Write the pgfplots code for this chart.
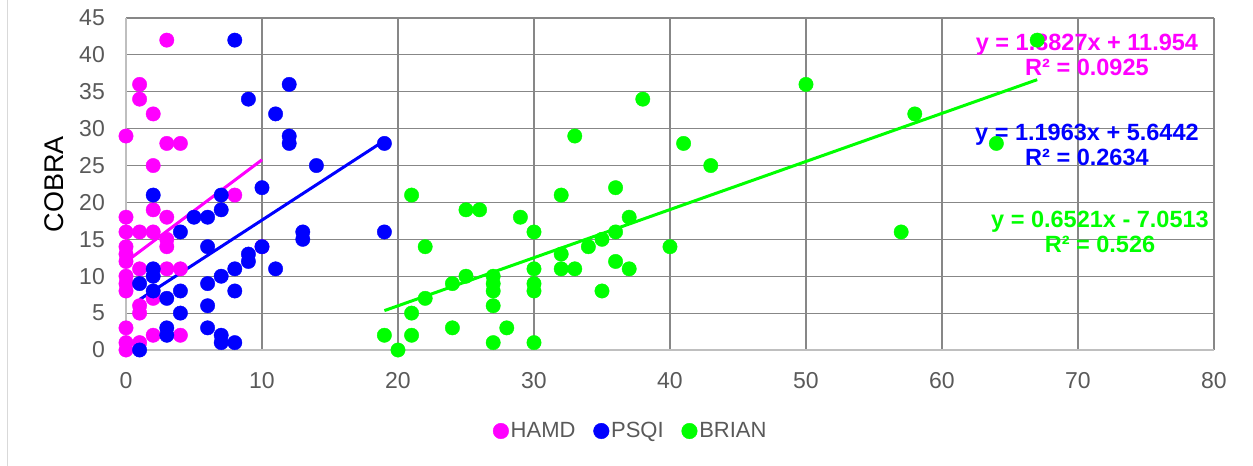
\documentclass[border=0pt]{standalone}
\usepackage{fontspec}
\setmainfont{Liberation Sans}
\usepackage{pgfplots}
\pgfplotsset{compat=1.18}
\definecolor{hamd}{HTML}{FF00FF}
\definecolor{psqi}{HTML}{0000FF}
\definecolor{brian}{HTML}{00FF00}
\definecolor{txtgray}{HTML}{595959}
\definecolor{gridgray}{HTML}{878787}
\definecolor{axgray}{HTML}{BFBFBF}
\definecolor{bordergray}{HTML}{D9D9D9}
\begin{document}
\begin{tikzpicture}
\path[use as bounding box] (0,0) rectangle (1253bp,466bp);
\draw[color=bordergray, line width=1.5bp] (7.5bp,0) -- (7.5bp,466bp);
\begin{axis}[
  at={(126bp,116bp)}, anchor=south west,
  scale only axis, width=1088bp, height=332bp,
  xmin=0, xmax=80, ymin=0, ymax=45,
  xtick={0,10,...,80}, ytick={0,5,...,45},
  grid=major, major grid style={color=gridgray, line width=1.2bp},
  axis line style={draw=none},
  major tick length=0pt,
  clip=false,
  /pgf/number format/assume math mode=true,
  tick label style={font=\fontsize{23bp}{26bp}\selectfont, text=txtgray, inner sep=0pt},
  xticklabel style={anchor=north, yshift=-22bp},
  yticklabel style={anchor=east, xshift=-21bp},
  ylabel={COBRA},
  every axis y label/.style={at={(axis description cs:-0.0657,0.5)}, rotate=90, anchor=center, inner sep=0pt, font=\fontsize{27bp}{30bp}\selectfont, text=black},
  legend style={at={(0.4640,-0.244)}, anchor=center, draw=none, fill=none,
    legend columns=3, font=\fontsize{22bp}{24bp}\selectfont, text=txtgray,
    /tikz/every even column/.append style={column sep=16bp},
    inner sep=0pt, nodes={inner sep=2bp}},
  legend image code/.code={\draw[#1, mark size=7.8bp] plot coordinates {(7.8bp,0bp)};},
]
\draw[color=axgray, line width=2bp] (axis cs:0,0) -- (axis cs:80,0);
\draw[color=axgray, line width=1.5bp] (axis cs:0,0) -- (axis cs:0,45);

\addplot[only marks, mark=*, mark size=7.2bp, color=hamd, mark options={draw=hamd, fill=hamd}] coordinates {
(3,42) (1,36) (1,34) (2,32) (0,29) (3,28) (4,28) (2,25) (8,21) (2,19)
(0,18) (3,18) (0,16) (1,16) (2,16) (3,15) (3,14) (0,14) (0,13) (0,12)
(1,11) (3,11) (4,11) (0,10) (0,9) (0,8) (2,7) (1,6) (1,5) (0,3)
(2,2) (4,2) (0,1) (1,1) (0,0) (10,14)
};
\addlegendentry{HAMD}

\addplot[only marks, mark=*, mark size=7.2bp, color=psqi, mark options={draw=psqi, fill=psqi}] coordinates {
(8,42) (9,34) (11,32) (12,36) (12,29) (12,28) (19,28) (14,25) (10,22) (2,21)
(7,21) (7,19) (5,18) (6,18) (4,16) (13,16) (13,15) (19,16) (6,14) (10,14)
(9,13) (9,12) (2,11) (2,10) (8,11) (11,11) (7,10) (1,9) (6,9) (2,8)
(4,8) (8,8) (3,7) (6,6) (4,5) (3,3) (3,2) (6,3) (7,2) (7,1)
(8,1) (1,0)
};
\addlegendentry{PSQI}

\addplot[only marks, mark=*, mark size=7.2bp, color=brian, mark options={draw=brian, fill=brian}] coordinates {
(19,2) (20,0) (21,21) (21,5) (21,2) (22,14) (22,7) (24,9) (24,3) (25,19)
(25,10) (26,19) (27,10) (27,9) (27,8) (27,6) (27,1) (28,3) (29,18) (30,16)
(30,11) (30,9) (30,8) (30,1) (32,21) (32,13) (32,11) (33,29) (33,11) (34,14)
(35,15) (35,8) (36,22) (36,16) (36,12) (37,18) (37,11) (38,34) (40,14) (41,28)
(43,25) (50,36) (57,16) (58,32) (64,28) (67,42)
};
\addlegendentry{BRIAN}

% linear trend lines (end points of the fitted equations)
\addplot[hamd, line width=3bp, forget plot] coordinates {(0,11.954) (10,25.781)};
\addplot[psqi, line width=3bp, forget plot] coordinates {(1,6.8405) (19,28.374)};
\addplot[brian, line width=3bp, forget plot] coordinates {(19,5.3386) (67,36.640)};

\node[anchor=base, text=hamd, inner sep=0pt, font=\bfseries\fontsize{23.5bp}{26bp}\selectfont] at (axis cs:70.66,40.66) {y = 1.3827x + 11.954};
\node[anchor=base, text=hamd, inner sep=0pt, font=\bfseries\fontsize{23.5bp}{26bp}\selectfont] at (axis cs:70.66,37.27) {R² = 0.0925};
\node[anchor=base, text=psqi, inner sep=0pt, font=\bfseries\fontsize{23.5bp}{26bp}\selectfont] at (axis cs:70.66,28.46) {y = 1.1963x + 5.6442};
\node[anchor=base, text=psqi, inner sep=0pt, font=\bfseries\fontsize{23.5bp}{26bp}\selectfont] at (axis cs:70.66,24.94) {R² = 0.2634};
\node[anchor=base, text=brian, inner sep=0pt, font=\bfseries\fontsize{23.5bp}{26bp}\selectfont] at (axis cs:71.62,16.54) {y = 0.6521x - 7.0513};
\node[anchor=base, text=brian, inner sep=0pt, font=\bfseries\fontsize{23.5bp}{26bp}\selectfont] at (axis cs:71.62,13.15) {R² = 0.526};
\end{axis}
\end{tikzpicture}
\end{document}
